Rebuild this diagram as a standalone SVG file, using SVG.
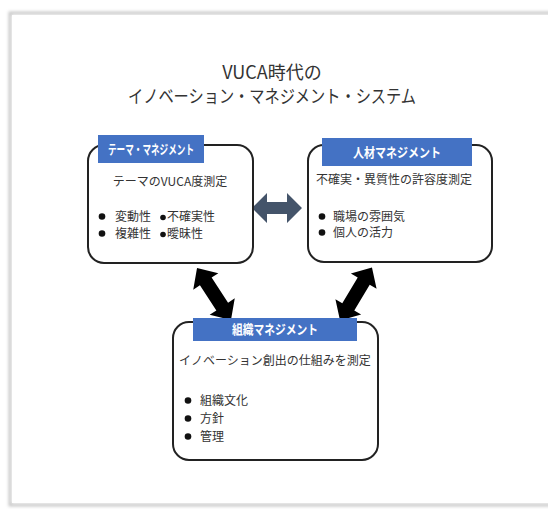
<svg xmlns="http://www.w3.org/2000/svg" width="548" height="509" viewBox="0 0 548 509">
<defs>
<style>
.t{font-family:"Noto Sans CJK JP","Noto Sans",sans-serif;fill:#333}
.title{font-size:18px}
.body{font-size:12px}
.lab{font-size:13px;font-weight:bold;fill:#fff;text-anchor:middle}
.box{fill:#fff;stroke:#222;stroke-width:2}
.band{fill:#4472C4}
.dbl{fill:#000}
.dot{fill:#111}
</style>
<filter id="sh" x="-5%" y="-5%" width="110%" height="110%"><feGaussianBlur stdDeviation="1.5"/></filter>
<polygon id="darrow" points="-31,0 -15,-15 -15,-7 15,-7 15,-15 31,0 15,15 15,7 -15,7 -15,15"/>
</defs>
<rect width="548" height="509" fill="#fff"/>
<rect x="10" y="13" width="545" height="492" fill="none" stroke="#c8c8c8" stroke-width="3" filter="url(#sh)"/>
<rect x="12" y="15" width="541" height="488" fill="#fff"/>
<g id="title">
<text class="t title" x="272" y="79" text-anchor="middle">VUCA時代の</text>
<text class="t title" x="272" y="103" text-anchor="middle" textLength="288" lengthAdjust="spacingAndGlyphs">イノベーション・マネジメント・システム</text>
</g>
<g id="connectors">
<polygon points="252,208 267,193 267,202 287,202 287,193 302,208 287,223 287,214 267,214 267,223" fill="#44546A"/>
<use href="#darrow" class="dbl" transform="translate(214,294) rotate(56.8)"/>
<use href="#darrow" class="dbl" transform="translate(356,294) rotate(121)"/>
</g>
<g id="theme">
<rect class="box" x="88" y="145" width="165" height="118" rx="16"/>
<rect class="band" x="98" y="135" width="106" height="28"/>
<text class="t lab" x="151" y="154" textLength="86" lengthAdjust="spacingAndGlyphs">テーマ・マネジメント</text>
<text class="t body" x="170" y="186" text-anchor="middle">テーマのVUCA度測定</text>
<circle class="dot" cx="102" cy="216.5" r="3.3"/>
<text class="t body" x="115" y="221">変動性</text>
<circle class="dot" cx="163" cy="217.5" r="2.8"/>
<text class="t body" x="167" y="221">不確実性</text>
<circle class="dot" cx="102" cy="233.5" r="3.3"/>
<text class="t body" x="115" y="238">複雑性</text>
<circle class="dot" cx="163" cy="234.5" r="2.8"/>
<text class="t body" x="167" y="238">曖昧性</text>
</g>
<g id="talent">
<rect class="box" x="308" y="145" width="184" height="117" rx="16"/>
<rect class="band" x="322" y="138" width="150" height="28"/>
<text class="t lab" x="397" y="157" textLength="88" lengthAdjust="spacingAndGlyphs">人材マネジメント</text>
<text class="t body" x="394" y="184" text-anchor="middle">不確実・異質性の許容度測定</text>
<circle class="dot" cx="322" cy="216.5" r="3.3"/>
<text class="t body" x="333" y="221">職場の雰囲気</text>
<circle class="dot" cx="322" cy="232.5" r="3.3"/>
<text class="t body" x="333" y="237">個人の活力</text>
</g>
<g id="org">
<rect class="box" x="173" y="322" width="205" height="138" rx="16"/>
<rect class="band" x="193" y="318" width="164" height="23"/>
<text class="t lab" x="275" y="334" textLength="86" lengthAdjust="spacingAndGlyphs">組織マネジメント</text>
<text class="t body" x="275" y="365" text-anchor="middle">イノベーション創出の仕組みを測定</text>
<circle class="dot" cx="188" cy="400.5" r="3.3"/>
<text class="t body" x="200" y="405">組織文化</text>
<circle class="dot" cx="188" cy="418.5" r="3.3"/>
<text class="t body" x="200" y="423">方針</text>
<circle class="dot" cx="188" cy="436.5" r="3.3"/>
<text class="t body" x="200" y="441">管理</text>
</g>
</svg>
